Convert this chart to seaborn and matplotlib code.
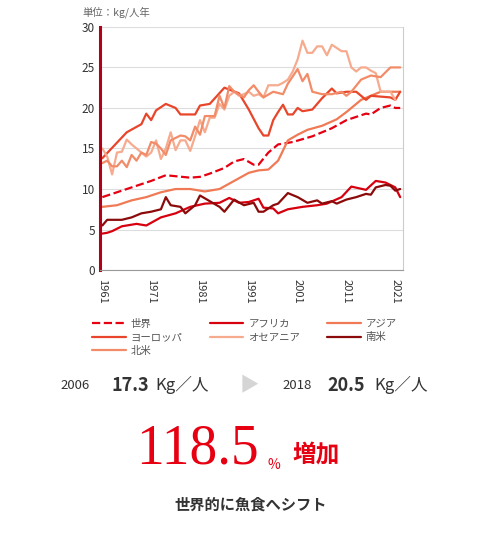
import seaborn as sb
import matplotlib.pyplot as plt
import pandas as pd
from matplotlib.lines import Line2D

sb.set_style('white')
plt.rcParams['font.family'] = ['Noto Sans CJK JP', 'DejaVu Sans']

# world
world_x = [1961, 1966, 1971, 1974, 1979, 1981, 1983, 1986, 1988, 1990, 1992, 1993, 1995, 1997, 2000, 2004, 2008, 2011, 2015, 2016, 2018, 2020, 2021, 2022]
world_y = [9.0, 10.0, 11.0, 11.7, 11.4, 11.5, 11.9, 12.6, 13.4, 13.7, 13.0, 13.0, 14.5, 15.5, 15.8, 16.5, 17.5, 18.5, 19.3, 19.2, 20.0, 20.3, 20.0, 20.0]
# africa
afr_x = [1961, 1962, 1963, 1965, 1968, 1970, 1973, 1976, 1979, 1982, 1985, 1987, 1989, 1991, 1993, 1994, 1996, 1997, 1999, 2002, 2005, 2007, 2010, 2012, 2015, 2017, 2019, 2020, 2021, 2022]
afr_y = [4.5, 4.6, 4.8, 5.4, 5.7, 5.5, 6.5, 7.0, 7.8, 8.2, 8.3, 8.9, 8.3, 8.4, 8.8, 7.7, 7.6, 7.0, 7.5, 7.8, 8.0, 8.2, 9.0, 10.3, 9.9, 11.0, 10.8, 10.5, 10.2, 9.0]
# asia
asia_x = [1961, 1964, 1967, 1970, 1973, 1976, 1979, 1982, 1985, 1988, 1991, 1993, 1995, 1997, 1999, 2001, 2003, 2006, 2009, 2011, 2014, 2016, 2018, 2020, 2022]
asia_y = [7.8, 8.0, 8.6, 9.0, 9.6, 10.0, 10.0, 9.7, 10.0, 11.0, 12.0, 12.3, 12.4, 13.5, 16.0, 16.7, 17.3, 17.8, 18.6, 19.5, 21.0, 21.5, 22.0, 22.0, 22.0]
# europe
eu_x = [1961, 1966, 1969, 1970, 1971, 1972, 1974, 1976, 1977, 1980, 1981, 1983, 1986, 1989, 1991, 1993, 1994, 1995, 1996, 1997, 1998, 1999, 2000, 2001, 2002, 2004, 2006, 2008, 2009, 2011, 2013, 2015, 2016, 2020, 2021, 2022]
eu_y = [13.8, 17.0, 18.0, 19.3, 18.5, 19.7, 20.5, 20.0, 19.2, 19.2, 20.3, 20.5, 22.5, 21.8, 19.8, 17.5, 16.6, 16.6, 18.5, 19.5, 20.4, 19.2, 19.2, 20.0, 19.6, 19.8, 21.2, 22.4, 21.8, 22.0, 22.0, 21.0, 21.5, 21.3, 21.0, 22.0]
# oceania
oce_x = list(range(1961, 1976)) + list(range(1976, 1991)) + list(range(1991, 2006)) + list(range(2006, 2022))
oce_y = [15.0, 14.0, 11.8, 14.5, 14.6, 16.1, 15.5, 15.0, 14.5, 14.0, 14.5, 16.0, 13.7, 15.0, 17.0,
         14.8, 16.0, 16.0, 14.7, 16.5, 18.5, 17.0, 18.8, 18.8, 20.5, 19.8, 21.5, 22.0, 21.5, 21.7,
         22.0, 21.5, 21.7, 21.3, 22.8, 22.8, 22.8, 23.1, 23.5, 24.5, 26.0, 28.3, 26.8, 26.8, 27.6,
         27.6, 26.5, 27.8, 27.4, 27.0, 27.0, 25.0, 24.5, 25.0, 25.0, 24.6, 24.3, 22.0, 22.0, 22.0, 21.0]
# south america
sa_x = [1961, 1962, 1965, 1967, 1969, 1971, 1973, 1974, 1975, 1977, 1978, 1980, 1981, 1983, 1985, 1986, 1988, 1990, 1992, 1993, 1994, 1996, 1997, 1999, 2001, 2003, 2005, 2006, 2008, 2009, 2011, 2013, 2015, 2016, 2017, 2019, 2020, 2021, 2022]
sa_y = [5.5, 6.2, 6.2, 6.5, 7.0, 7.2, 7.5, 9.0, 8.0, 7.8, 7.0, 8.0, 9.2, 8.5, 7.8, 7.2, 8.7, 8.0, 8.3, 7.2, 7.2, 8.0, 8.2, 9.5, 9.0, 8.3, 8.6, 8.2, 8.5, 8.2, 8.7, 9.0, 9.4, 9.3, 10.2, 10.5, 10.4, 9.8, 10.0]
# north america
na_x = [1961, 1962, 1963, 1964, 1965, 1966, 1967, 1968, 1969, 1970, 1971, 1972, 1973, 1974, 1975, 1977, 1978, 1979, 1980, 1981, 1982, 1984, 1985, 1986, 1987, 1988, 1990, 1991, 1992, 1993, 1994, 1996, 1998, 1999, 2001, 2002, 2003, 2004, 2006, 2008, 2010, 2011, 2012, 2014, 2016, 2018, 2020, 2022]
na_y = [13.2, 13.5, 12.8, 12.8, 13.5, 12.7, 14.2, 13.5, 14.5, 14.2, 15.8, 15.6, 15.0, 14.2, 16.0, 16.6, 16.5, 16.0, 17.7, 16.7, 19.0, 19.0, 21.5, 20.0, 22.7, 22.0, 21.3, 22.2, 22.8, 22.0, 21.3, 22.0, 21.7, 23.0, 24.8, 23.3, 24.2, 22.0, 21.7, 21.7, 22.0, 21.5, 22.0, 23.5, 24.0, 23.8, 25.0, 25.0]

names = ['世界', 'アフリカ', 'アジア', 'ヨーロッパ', 'オセアニア', '南米', '北米']
colors = ['#e60012', '#d7000f', '#ef7a55', '#e8452a', '#f6ab8e', '#8b0a0a', '#f28c68']
series = [(world_x, world_y), (afr_x, afr_y), (asia_x, asia_y), (eu_x, eu_y),
          (oce_x, oce_y), (sa_x, sa_y), (na_x, na_y)]

fig = plt.figure(figsize=(5.02, 5.38), dpi=100)
ax = fig.add_axes([0.199, 0.498, 0.604, 0.452])
for (xs, ys), nm, c in zip(series, names, colors):
    df = pd.DataFrame({'year': xs, 'kg': ys})
    sb.lineplot(data=df, x='year', y='kg', ax=ax, color=c, lw=1.6,
                linestyle='--' if nm == '世界' else '-')

ax.set_xlim(1960.5, 2022.6)
ax.set_ylim(0, 30)
ax.set_yticks(range(0, 31, 5))
ax.set_xticks(range(1961, 2022, 10))
ax.set_xticklabels([str(y) for y in range(1961, 2022, 10)], rotation=-90, fontsize=8, color='#333')
ax.tick_params(axis='y', labelsize=8.5, colors='#333', length=0)
ax.tick_params(axis='x', length=3, color='#999')
ax.set_xlabel('')
ax.set_ylabel('')
ax.grid(axis='y', color='#dddddd', lw=0.8)
ax.spines['top'].set_visible(False)
ax.spines['right'].set_color('#cccccc')
ax.spines['bottom'].set_color('#999999')
ax.spines['left'].set_color('#b0001a')
ax.spines['left'].set_linewidth(2.2)
fig.text(0.165, 0.972, '単位：kg/人年', fontsize=7.5, color='#666')

# legend fills column by column, so reorder to read row by row
order = [0, 3, 6, 1, 4, 2, 5]
handles = [Line2D([], [], color=colors[i], lw=1.6, linestyle='--' if i == 0 else '-') for i in order]
fig.legend(handles, [names[i] for i in order], loc='upper left', bbox_to_anchor=(0.165, 0.425), ncol=3,
           frameon=False, fontsize=7.5, labelcolor='#555', handlelength=3.2,
           columnspacing=2.6, handletextpad=0.5, labelspacing=0.35)

yrow = 0.284
fig.text(0.12, yrow, '2006', fontsize=9.5, color='#333', va='center')
fig.text(0.222, yrow, '17.3', fontsize=13, weight='bold', color='#333', va='center')
fig.text(0.31, yrow, 'Kg／人', fontsize=12, color='#333', va='center')
fig.text(0.478, yrow, '▶', fontsize=14, color='#d5d5d5', va='center')
fig.text(0.562, yrow, '2018', fontsize=9.5, color='#333', va='center')
fig.text(0.652, yrow, '20.5', fontsize=13, weight='bold', color='#333', va='center')
fig.text(0.745, yrow, 'Kg／人', fontsize=12, color='#333', va='center')

fig.text(0.272, 0.165, '118.5', fontsize=40, color='#e60012', family='Liberation Serif', va='center')
fig.text(0.532, 0.135, '%', fontsize=10, color='#e60012', va='center')
fig.text(0.583, 0.155, '増加', fontsize=17, weight='bold', color='#e60012', va='center')
fig.text(0.5, 0.062, '世界的に魚食へシフト', fontsize=11, weight='bold', color='#333', ha='center', va='center')

fig.savefig('out.png', dpi=100)
